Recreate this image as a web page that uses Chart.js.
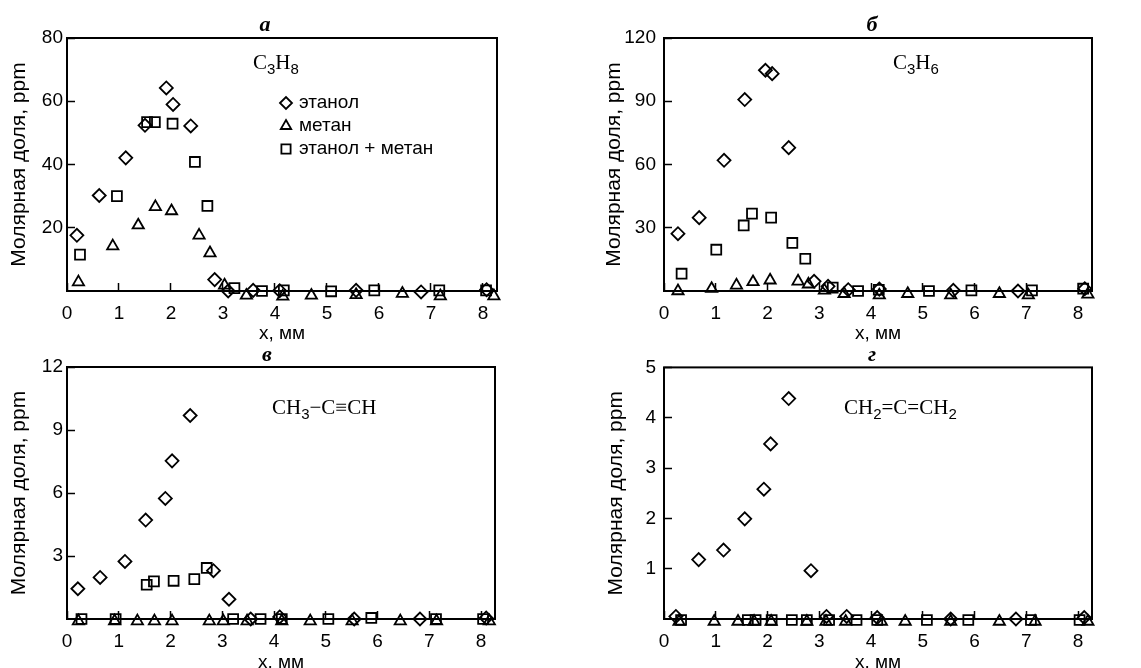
<!DOCTYPE html>
<html>
<head>
<meta charset="utf-8">
<script src="https://cdn.jsdelivr.net/npm/chart.js@4.4.1/dist/chart.umd.min.js"></script>
<style>
  body { margin: 0; background: #fff; width: 1141px; height: 668px; position: relative; overflow: hidden; }
  canvas { position: absolute; }
</style>
</head>
<body>
<canvas id="pa" width="570" height="345" style="left:0;top:0"></canvas>
<canvas id="pb" width="571" height="345" style="left:570px;top:0"></canvas>
<canvas id="pc" width="570" height="340" style="left:0;top:340px"></canvas>
<canvas id="pd" width="571" height="340" style="left:570px;top:340px"></canvas>
<script>
// series names
const seriesNames = ["этанол", "метан", "этанол + метан"];
const xTicks = [0, 1, 2, 3, 4, 5, 6, 7, 8];

// a: C3H8
const aEthX = [0.19, 0.62, 1.13, 1.50, 1.91, 2.04, 2.38, 2.84, 3.10, 3.58, 4.09, 5.56, 6.81, 8.07];
const aEthY = [17.6, 30.2, 42.1, 52.4, 64.2, 59.0, 52.2, 3.6, 0.0, 0.2, 0.1, 0.2, -0.3, 0.4];
const aMetX = [0.22, 0.88, 1.37, 1.70, 2.01, 2.54, 2.75, 3.03, 3.45, 4.15, 4.70, 5.56, 6.45, 7.18, 8.21];
const aMetY = [2.8, 14.2, 20.8, 26.6, 25.3, 17.6, 12.0, 1.8, -1.4, -1.7, -1.4, -1.2, -0.8, -1.6, -1.6];
const aMixX = [0.25, 0.96, 1.54, 1.69, 2.03, 2.46, 2.70, 3.22, 3.75, 4.17, 5.08, 5.91, 7.16, 8.06];
const aMixY = [11.5, 30.0, 53.4, 53.4, 52.9, 40.8, 26.9, 0.9, 0.0, 0.2, -0.1, 0.2, 0.2, 0.2];
const aYTicks = [20, 40, 60, 80];

// б: C3H6
const bEthX = [0.27, 0.68, 1.16, 1.56, 1.96, 2.09, 2.41, 2.90, 3.17, 3.56, 4.16, 5.59, 6.84, 8.13];
const bEthY = [27.2, 34.8, 62.0, 90.8, 104.7, 103.1, 68.0, 4.6, 2.2, 0.6, 0.9, 0.3, 0.0, 1.1];
const bMetX = [0.27, 0.92, 1.40, 1.72, 2.05, 2.59, 2.79, 3.10, 3.48, 4.16, 4.71, 5.54, 6.48, 7.04, 8.19];
const bMetY = [0.0, 1.1, 2.7, 4.3, 5.1, 4.6, 3.2, 0.3, -1.3, -2.0, -1.3, -2.0, -1.3, -2.0, -1.6];
const bMixX = [0.34, 1.01, 1.54, 1.70, 2.07, 2.48, 2.73, 3.26, 3.75, 4.15, 5.12, 5.94, 7.11, 8.10];
const bMixY = [8.2, 19.6, 31.1, 36.7, 34.8, 22.8, 15.3, 1.6, 0.0, 0.6, 0.0, 0.3, 0.3, 1.1];
const bYTicks = [30, 60, 90, 120];

// в: CH3-C≡CH
const cEthX = [0.21, 0.64, 1.12, 1.52, 1.90, 2.03, 2.38, 2.83, 3.13, 3.55, 4.11, 5.55, 6.82, 8.10];
const cEthY = [1.44, 1.98, 2.74, 4.71, 5.74, 7.53, 9.69, 2.30, 0.94, 0.0, 0.1, 0.0, 0.0, 0.05];
const cMetX = [0.22, 0.92, 1.36, 1.69, 2.03, 2.75, 3.02, 3.48, 4.15, 4.70, 5.51, 6.44, 7.14, 8.16];
const cMetY = [-0.1, -0.1, -0.1, -0.1, -0.1, -0.1, -0.1, -0.1, -0.1, -0.1, -0.1, -0.1, -0.1, -0.1];
const cMixX = [0.28, 0.94, 1.54, 1.68, 2.06, 2.46, 2.70, 3.21, 3.74, 4.15, 5.05, 5.88, 7.13, 8.04];
const cMixY = [0.0, 0.0, 1.63, 1.79, 1.82, 1.90, 2.43, 0.0, 0.0, 0.0, 0.0, 0.05, 0.0, 0.0];
const cYTicks = [3, 6, 9, 12];

// г: CH2=C=CH2
const dEthX = [0.23, 0.67, 1.15, 1.56, 1.93, 2.06, 2.41, 2.84, 3.14, 3.53, 4.12, 5.54, 6.80, 8.12];
const dEthY = [0.05, 1.18, 1.37, 1.99, 2.58, 3.48, 4.38, 0.96, 0.05, 0.05, 0.03, 0.0, 0.0, 0.03];
const dMetX = [0.29, 0.97, 1.43, 1.74, 2.07, 2.76, 3.13, 3.51, 4.20, 4.66, 5.54, 6.48, 7.17, 8.19];
const dMetY = [-0.05, -0.05, -0.05, -0.05, -0.05, -0.05, -0.05, -0.05, -0.05, -0.05, -0.05, -0.05, -0.05, -0.05];
const dMixX = [0.33, 1.62, 1.77, 2.08, 2.47, 2.76, 3.19, 3.72, 4.12, 5.08, 5.88, 7.09, 8.03];
const dMixY = [-0.02, -0.02, -0.02, -0.02, -0.02, -0.02, -0.02, -0.02, -0.02, -0.02, -0.02, -0.02, -0.02];
const dYTicks = [1, 2, 3, 4, 5];

const SANS = "'Liberation Sans', Arial, sans-serif";
const SERIF = "'Liberation Serif', 'Times New Roman', serif";

const markers = [
  { style: "rectRot", r: 6.5 },
  { style: "triangle", r: 6.5 },
  { style: "rect", r: 7 },
];

function pts(xs, ys) {
  return xs.map((x, i) => ({ x: x, y: ys[i] }));
}

function ds(k, xs, ys) {
  return {
    label: seriesNames[k],
    data: pts(xs, ys),
    pointStyle: markers[k].style,
    pointRadius: markers[k].r,
    pointBorderWidth: 1.8,
    pointBorderColor: "#000",
    pointBackgroundColor: "rgba(0,0,0,0)",
    showLine: false,
    clip: false,
  };
}

// draws the frame, panel letter, formula with subscripts and legend
const decor = {
  id: "decor",
  beforeDatasetsDraw(chart) {
    const a = chart.chartArea;
    const ctx = chart.ctx;
    ctx.save();
    ctx.strokeStyle = "#000";
    ctx.lineWidth = 2;
    ctx.strokeRect(a.left, a.top, a.right - a.left, a.bottom - a.top);
    ctx.restore();
  },
  afterDraw(chart, args, o) {
    const ctx = chart.ctx;
    ctx.save();
    ctx.fillStyle = "#000";
    ctx.textBaseline = "middle";
    ctx.textAlign = "center";
    ctx.font = "bold italic 22px " + SERIF;
    ctx.fillText(o.letter, o.letterX, o.letterY);

    ctx.textAlign = "left";
    ctx.textBaseline = "alphabetic";
    let x = o.fx;
    o.formula.forEach(p => {
      if (p[1]) {
        ctx.font = "15px " + SANS;
        ctx.fillText(p[0], x, o.fy + 5);
      } else {
        ctx.font = "21px " + SERIF;
        ctx.fillText(p[0], x, o.fy);
      }
      x += ctx.measureText(p[0]).width;
    });

    if (o.legend) {
      ctx.textBaseline = "middle";
      ctx.font = "19px " + SANS;
      chart.data.datasets.forEach((d, i) => {
        const y = o.legend.y + i * 23;
        ctx.strokeStyle = "#000";
        ctx.fillStyle = "rgba(0,0,0,0)";
        ctx.lineWidth = 1.8;
        Chart.helpers.drawPoint(ctx, { pointStyle: d.pointStyle, radius: d.pointRadius - 0.5, borderWidth: 1.8 }, o.legend.x, y);
        ctx.fillStyle = "#000";
        ctx.fillText(d.label, o.legend.x + 13, y);
      });
    }
    ctx.restore();
  },
};

function panel(id, cfg) {
  new Chart(document.getElementById(id), {
    type: "scatter",
    data: { datasets: cfg.datasets },
    plugins: [decor],
    options: {
      responsive: false,
      animation: false,
      events: [],
      layout: { padding: { top: cfg.top, right: cfg.right, left: 0, bottom: 0 } },
      plugins: {
        legend: { display: false },
        tooltip: { enabled: false },
        title: { display: false },
        decor: cfg.decor,
      },
      scales: {
        x: {
          type: "linear",
          min: 0,
          max: 8.27,
          afterBuildTicks: s => { s.ticks = xTicks.map(v => ({ value: v })); },
          afterFit: s => { s.height = cfg.xH; },
          grid: { drawOnChartArea: false, drawTicks: true, tickLength: -8, tickWidth: 1.5, tickColor: "#000" },
          border: { display: false },
          ticks: { color: "#000", font: { family: SANS, size: 19 }, padding: 19, maxRotation: 0, autoSkip: false },
          title: { display: true, text: "x, мм", color: "#000", font: { family: SANS, size: 19 }, padding: { top: 0, bottom: cfg.xtPad } },
        },
        y: {
          type: "linear",
          min: 0,
          max: cfg.yMax,
          afterBuildTicks: s => { s.ticks = cfg.yTicks.map(v => ({ value: v })); },
          afterFit: s => { s.width = cfg.yW; },
          grid: { drawOnChartArea: false, drawTicks: true, tickLength: -8, tickWidth: 1.5, tickColor: "#000" },
          border: { display: false },
          ticks: { color: "#000", font: { family: SANS, size: 19 }, padding: cfg.ytickPad },
          title: { display: true, text: "Молярная доля, ppm", color: "#000", font: { family: SANS, size: 21 }, padding: { top: cfg.ytPad, bottom: 0 } },
        },
      },
    },
  });
}

panel("pa", {
  datasets: [ds(0, aEthX, aEthY), ds(1, aMetX, aMetY), ds(2, aMixX, aMixY)],
  yMax: 80, yTicks: aYTicks, top: 38, right: 73, xH: 54, yW: 67, xtPad: 0, ytPad: 7, ytickPad: 12,
  decor: {
    letter: "а", letterX: 265, letterY: 25,
    formula: [["C", 0], ["3", 1], ["H", 0], ["8", 1]], fx: 253, fy: 69,
    legend: { x: 286, y: 103 },
  },
});

panel("pb", {
  datasets: [ds(0, bEthX, bEthY), ds(1, bMetX, bMetY), ds(2, bMixX, bMixY)],
  yMax: 120, yTicks: bYTicks, top: 38, right: 49, xH: 54, yW: 94, xtPad: 0, ytPad: 32, ytickPad: 16,
  decor: {
    letter: "б", letterX: 302, letterY: 25,
    formula: [["C", 0], ["3", 1], ["H", 0], ["6", 1]], fx: 323, fy: 69,
  },
});

panel("pc", {
  datasets: [ds(0, cEthX, cEthY), ds(1, cMetX, cMetY), ds(2, cMixX, cMixY)],
  yMax: 12, yTicks: cYTicks, top: 27, right: 75, xH: 61, yW: 67, xtPad: 6, ytPad: 7, ytickPad: 12,
  decor: {
    letter: "в", letterX: 267, letterY: 15,
    formula: [["CH", 0], ["3", 1], ["\u2212C\u2261CH", 0]], fx: 272, fy: 74,
  },
});

panel("pd", {
  datasets: [ds(0, dEthX, dEthY), ds(1, dMetX, dMetY), ds(2, dMixX, dMixY)],
  yMax: 5, yTicks: dYTicks, top: 27, right: 49, xH: 61, yW: 94, xtPad: 6, ytPad: 34, ytickPad: 16,
  decor: {
    letter: "г", letterX: 302, letterY: 15,
    formula: [["CH", 0], ["2", 1], ["=C=CH", 0], ["2", 1]], fx: 274, fy: 74,
  },
});
</script>
</body>
</html>
